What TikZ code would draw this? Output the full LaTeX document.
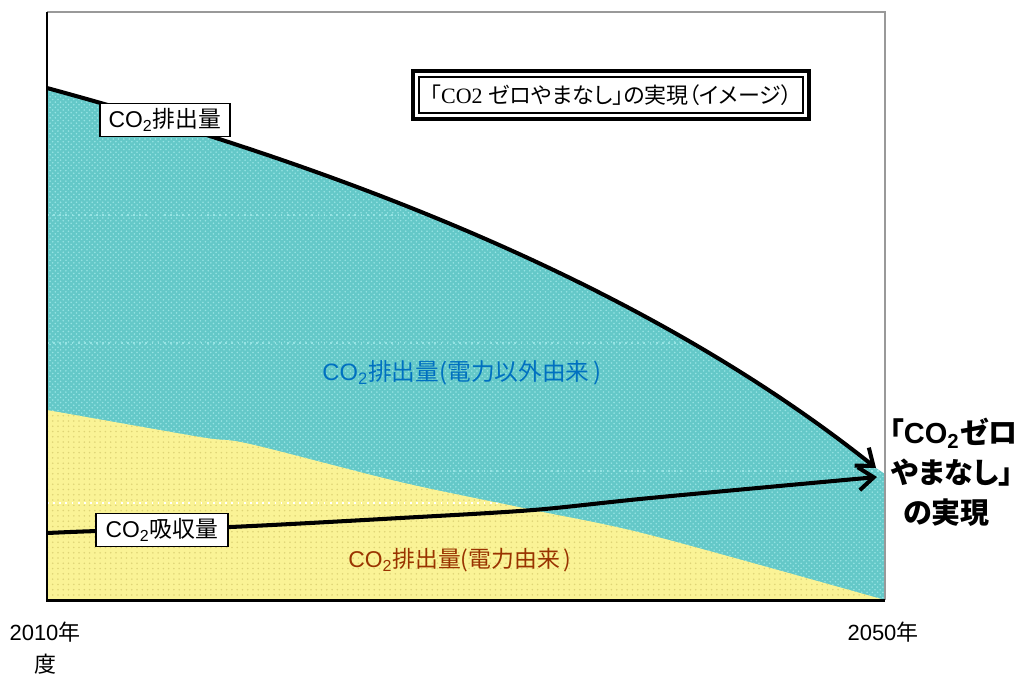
\documentclass[tikz,border=0pt]{standalone}
\usepackage{fontspec}
\setmainfont{Liberation Sans}
\newfontfamily\jp[RawFeature=+palt]{Noto Sans CJK JP}
\newfontfamily\titleserif{Liberation Serif}
\usetikzlibrary{arrows.meta,patterns}
\definecolor{emicol}{RGB}{100,200,200}
\definecolor{emidot}{RGB}{150,228,228}
\definecolor{elecol}{RGB}{250,243,150}
\definecolor{eledot}{RGB}{222,212,118}
\definecolor{othertext}{RGB}{0,112,192}
\definecolor{electext}{RGB}{153,51,0}
\newcommand{\cotwo}{CO\textsubscript{2}}

\begin{document}
\begin{tikzpicture}[x=0.02cm, y=-0.02cm,
    curve/.style={line width=2.3pt, -{Straight Barb[length=3mm, width=4.6mm]}},
    tag/.style={draw, line width=0.9pt, fill=white, inner sep=0pt, minimum height=0.66cm, font=\fontsize{13}{15}\selectfont},
    goal/.style={anchor=west, inner sep=0pt, font=\fontsize{16.5}{20}\selectfont\bfseries},
    gridline/.style={line width=0.8pt, dash pattern=on 1pt off 2.5pt}]

    \useasboundingbox (0,0) rectangle (1026,674);

    % CO2 emissions (other than electricity)
    \fill[emicol] (47,88) .. controls (330,165) and (640,280) .. (876,468) -- (885,474) -- (885,600) -- (47,600) -- cycle;
    \fill[pattern=crosshatch dots, pattern color=emidot] (47,88) .. controls (330,165) and (640,280) .. (876,468) -- (885,474) -- (885,600) -- (47,600) -- cycle;
    \begin{scope}
        \clip (47,88) .. controls (330,165) and (640,280) .. (876,468) -- (885,474) -- (885,600) -- (47,600) -- cycle;
        \draw[gridline, emidot] (47,215) -- (885,215);
        \draw[gridline, emidot] (47,343) -- (885,343);
        \draw[gridline, emidot] (47,471) -- (885,471);
    \end{scope}

    % CO2 emissions (electricity)
    \fill[elecol] plot[smooth] coordinates {(47,410) (200,437) (250,444) (400,482) (533,510) (650,535) (885,600)} -- (47,600) -- cycle;
    \fill[pattern=dots, pattern color=eledot] plot[smooth] coordinates {(47,410) (200,437) (250,444) (400,482) (533,510) (650,535) (885,600)} -- (47,600) -- cycle;
    \begin{scope}
        \clip plot[smooth] coordinates {(47,410) (200,437) (250,444) (400,482) (533,510) (650,535) (885,600)} -- (47,600) -- cycle;
        \draw[gridline, white] (47,503) -- (885,503);
    \end{scope}

    % frame
    \draw[line width=1.2pt, black!40] (47,12) -- (885,12) -- (885,600);
    \draw[line width=1.7pt] (47,12) -- (47,600) -- (885,600);

    % curves
    \draw[curve] (47,88) .. controls (330,165) and (640,280) .. (876,468);
    \draw[curve] plot[smooth] coordinates {(47,533) (97,531) (230,527) (400,518) (533,510) (650,498) (877,477)};

    % labels
    \node[tag, minimum width=2.6cm] (emission) at (165,120) {\cotwo{\jp 排出量}};
    \node[tag, minimum width=2.64cm] (absorption) at (162,530) {\cotwo{\jp 吸収量}};
    \node[othertext, font=\fontsize{13.5}{16}\selectfont] (other) at (462,373) {\cotwo{\jp 排出量(電力以外由来\,)}};
    \node[electext, font=\fontsize{13}{15}\selectfont] (elec) at (460,560) {\cotwo{\jp 排出量(電力由来\,)}};

    % title
    \node[draw, line width=1.1pt, inner sep=0pt, minimum width=7.68cm, minimum height=0.72cm, font=\fontsize{12.5}{15}\selectfont] (title) at (611,95) {{\jp 「}{\titleserif CO2} {\jp ゼロやまなし」の実現（イメージ）}};
    \draw[line width=1.8pt] ([shift={(-5,5)}]title.south west) rectangle ([shift={(5,-5)}]title.north east);

    % goal
    \node[goal] (goal1) at (889,433) {{\jp 「}\cotwo{\jp ゼロ}};
    \node[goal] (goal2) at (891,473) {{\jp やまなし」}};
    \node[goal] (goal3) at (903,513) {{\jp の実現}};

    % years
    \node[font=\fontsize{12.5}{15}\selectfont] (start) at (45,632) {2010{\jp 年}};
    \node[font=\fontsize{12.5}{15}\selectfont] (startb) at (45,664) {{\jp 度}};
    \node[font=\fontsize{12.5}{15}\selectfont] (end) at (883,632) {2050{\jp 年}};

\end{tikzpicture}
\end{document}
